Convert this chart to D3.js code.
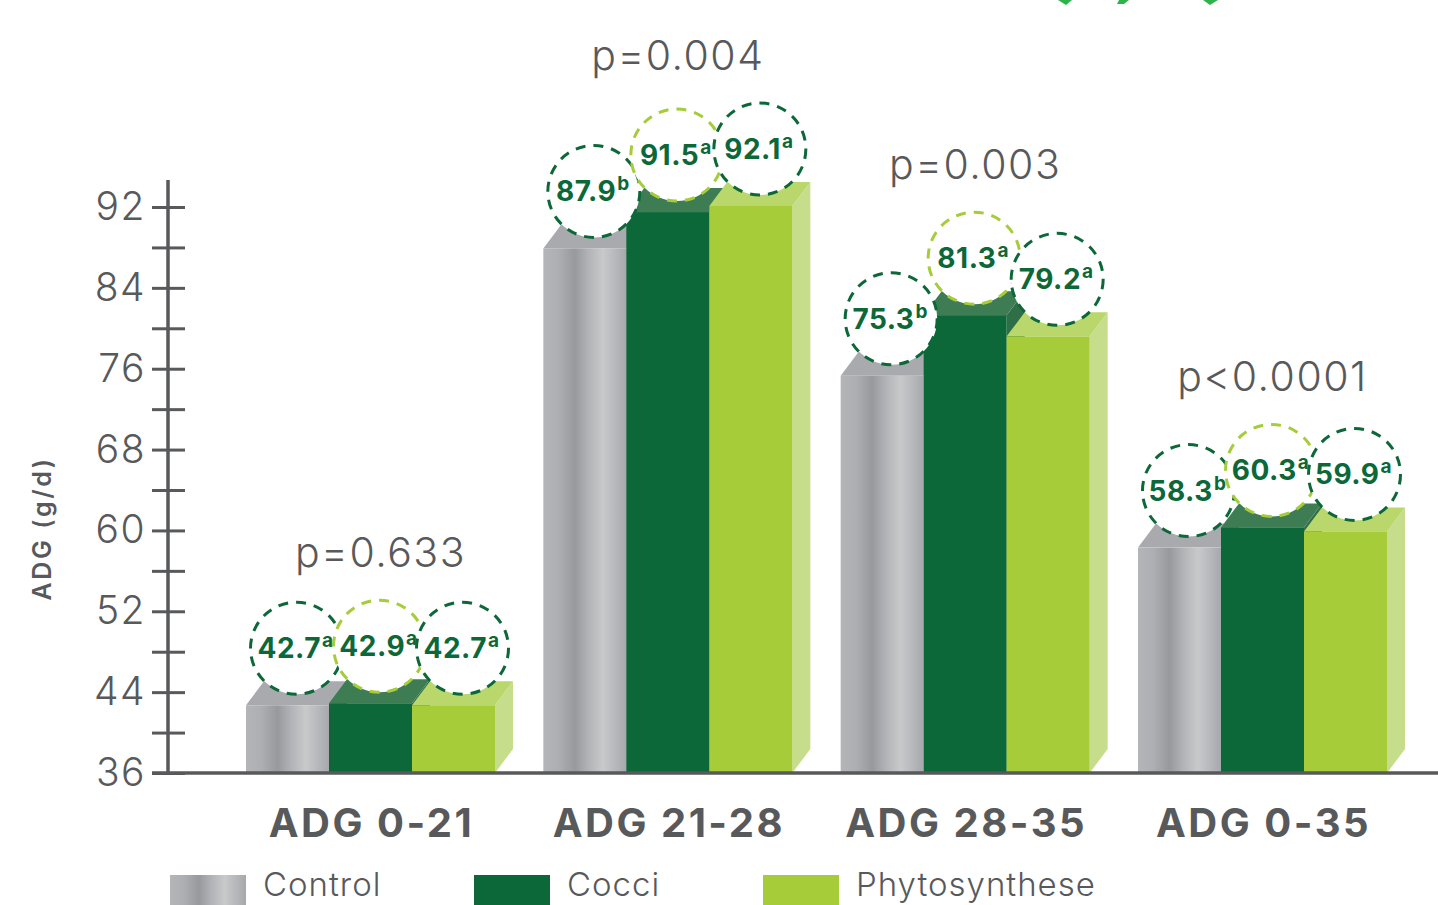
<!DOCTYPE html>
<html>
<head>
<meta charset="utf-8">
<script src="https://cdn.jsdelivr.net/npm/d3@7"></script>
<style>
  html, body { margin: 0; padding: 0; background: #fff; }
  svg { display: block; }
</style>
</head>
<body>
<svg id="chart" width="1438" height="905"></svg>
<script>
// ---- data ----
const categories = ["ADG 0-21", "ADG 21-28", "ADG 28-35", "ADG 0-35"];
const seriesNames = ["Control", "Cocci", "Phytosynthese"];
const controlValues = [42.7, 87.9, 75.3, 58.3];
const cocciValues = [42.9, 91.5, 81.3, 60.3];
const phytoValues = [42.7, 92.1, 79.2, 59.9];
const controlLetters = ["a", "b", "b", "b"];
const cocciLetters = ["a", "a", "a", "a"];
const phytoLetters = ["a", "a", "a", "a"];
const pValues = ["p=0.633", "p=0.004", "p=0.003", "p<0.0001"];
const majorTicks = [36, 44, 52, 60, 68, 76, 84, 92];
const minorTicks = [40, 48, 56, 64, 72, 80, 88];
const yTitle = "ADG (g/d)";

const seriesValues = [controlValues, cocciValues, phytoValues];
const seriesLetters = [controlLetters, cocciLetters, phytoLetters];

// ---- style ----
const FONT = "'Inter', 'Open Sans', sans-serif";
const GREY_TEXT = "#58595b";
const DARK = "#0c6838";
const LIGHT = "#a6cc39";
const faceFront = ["url(#steel)", DARK, LIGHT];
const faceTop = ["#a9aaad", "#3e7d53", "#b9d76b"];
const faceSide = ["#9fa0a4", "#2f6f47", "#c6de8b"];
const ringColor = [DARK, LIGHT, DARK];
const depthX = 18, depthY = 24;

const svg = d3.select("#chart");

// brushed-metal gradient for the control bars
const defs = svg.append("defs");
const steel = defs.append("linearGradient").attr("id", "steel")
  .attr("x1", "0%").attr("x2", "100%").attr("y1", "0%").attr("y2", "0%");
[[0, "#b4b5b8"], [0.18, "#aeafb2"], [0.38, "#98999d"], [0.55, "#b3b4b7"],
 [0.72, "#c7c9cb"], [0.85, "#b9babd"], [1, "#a7a8ab"]]
  .forEach(([o, c]) => steel.append("stop").attr("offset", o).attr("stop-color", c));

// ---- scales ----
const y = d3.scaleLinear().domain([36, 92]).range([773, 207]);
const x0 = d3.scaleBand().domain(categories).range([246, 1387]).paddingInner(0.1625).paddingOuter(0);
const x1 = d3.scaleBand().domain(seriesNames).range([0, x0.bandwidth()]).padding(0);

// ---- y axis ----
const axisX = 168;
const axisG = svg.append("g").attr("transform", `translate(${axisX},0)`);
const allTicks = majorTicks.concat(minorTicks);
const leftAxis = d3.axisLeft(y).tickValues(allTicks).tickSize(16).tickPadding(6)
  .tickFormat(d => majorTicks.includes(d) ? d : "");
const rightAxis = d3.axisRight(y).tickValues(allTicks).tickSize(17).tickFormat("");
axisG.append("g").call(leftAxis);
axisG.append("g").call(rightAxis);
axisG.selectAll(".domain").remove();
axisG.selectAll(".tick line").attr("stroke", GREY_TEXT).attr("stroke-width", 3);
axisG.selectAll(".tick text")
  .attr("fill", GREY_TEXT)
  .style("font-family", FONT)
  .style("font-weight", 300)
  .style("font-size", "39px")
  .style("letter-spacing", "1.5px");
axisG.append("line")
  .attr("x1", 0).attr("x2", 0).attr("y1", y(36)).attr("y2", 180)
  .attr("stroke", GREY_TEXT).attr("stroke-width", 3.5);

svg.append("text")
  .attr("transform", `translate(51,${y(60) - 2}) rotate(-90)`)
  .attr("text-anchor", "middle")
  .attr("fill", GREY_TEXT)
  .style("font-family", FONT)
  .style("font-weight", 600)
  .style("font-size", "25px")
  .style("letter-spacing", "2.6px")
  .text(yTitle);

// ---- bars (pseudo 3D boxes) ----
const barsG = svg.append("g");
categories.forEach((cat, ci) => {
  seriesNames.forEach((s, si) => {
    const v = seriesValues[si][ci];
    const xl = x0(cat) + x1(s);
    const xr = xl + x1.bandwidth();
    const yt = y(v), yb = y(36);
    const g = barsG.append("g");
    // side face
    g.append("path")
      .attr("d", `M${xr},${yt} L${xr + depthX},${yt - depthY} L${xr + depthX},${yb - depthY} L${xr},${yb} Z`)
      .attr("fill", faceSide[si]);
    // top face
    g.append("path")
      .attr("d", `M${xl},${yt} L${xl + depthX},${yt - depthY} L${xr + depthX},${yt - depthY} L${xr},${yt} Z`)
      .attr("fill", faceTop[si]);
    // front face
    g.append("rect")
      .attr("x", xl).attr("y", yt)
      .attr("width", x1.bandwidth()).attr("height", yb - yt)
      .attr("fill", faceFront[si]);
  });
});

// baseline
svg.append("line")
  .attr("x1", 152).attr("x2", 1438).attr("y1", y(36)).attr("y2", y(36))
  .attr("stroke", GREY_TEXT).attr("stroke-width", 3.5);

// ---- value badges ----
const badgeG = svg.append("g");
const R = 46;
const badgeX = (cat, s) => x0(cat) + x1(s) + x1.bandwidth() / 2 + depthX / 2;
categories.forEach((cat, ci) => {
  seriesNames.forEach((s, si) => {
    badgeG.append("circle")
      .attr("cx", badgeX(cat, s)).attr("cy", y(seriesValues[si][ci]) - 57).attr("r", R)
      .attr("fill", "#fff")
      .attr("stroke", ringColor[si])
      .attr("stroke-width", 3)
      .attr("stroke-dasharray", "10 8");
  });
});
categories.forEach((cat, ci) => {
  seriesNames.forEach((s, si) => {
    const v = seriesValues[si][ci];
    const t = badgeG.append("text")
      .attr("x", badgeX(cat, s) - 1).attr("y", y(v) - 57 + 10)
      .attr("text-anchor", "middle")
      .attr("fill", DARK)
      .style("font-family", FONT)
      .style("font-weight", 700)
      .style("font-size", "28px")
      .style("letter-spacing", "0.5px");
    t.append("tspan").text(v.toFixed(1));
    t.append("tspan").attr("dx", 1).attr("dy", -11).style("font-size", "19px").text(seriesLetters[si][ci]);
  });
});

// ---- p-values ----
categories.forEach((cat, ci) => {
  const top = d3.max(seriesValues, arr => arr[ci]);
  svg.append("text")
    .attr("x", x0(cat) + x0.bandwidth() / 2 + 10)
    .attr("y", y(top) - 150 + 14)
    .attr("text-anchor", "middle")
    .attr("fill", GREY_TEXT)
    .style("font-family", FONT)
    .style("font-weight", 300)
    .style("font-size", "41px")
    .style("letter-spacing", "1.5px")
    .text(pValues[ci]);
});

// ---- category labels ----
categories.forEach(cat => {
  svg.append("text")
    .attr("x", x0(cat) + x0.bandwidth() / 2 + 1)
    .attr("y", 837)
    .attr("text-anchor", "middle")
    .attr("fill", GREY_TEXT)
    .style("font-family", FONT)
    .style("font-weight", 700)
    .style("font-size", "40px")
    .style("letter-spacing", "2.5px")
    .text(cat);
});

// ---- legend ----
const legendX = [170, 474, 763];
seriesNames.forEach((s, si) => {
  svg.append("rect")
    .attr("x", legendX[si]).attr("y", 875)
    .attr("width", 76).attr("height", 34)
    .attr("fill", faceFront[si]);
  svg.append("text")
    .attr("x", legendX[si] + 93).attr("y", 896)
    .attr("fill", GREY_TEXT)
    .style("font-family", FONT)
    .style("font-weight", 300)
    .style("font-size", "33px")
    .style("letter-spacing", "1px")
    .text(s);
});

// ---- logo fragment at the top edge ----
const logoG = svg.append("g").attr("fill", "#2db34a");
logoG.append("path").attr("d", "M1058,0 L1072,0 L1066,5 Z");
logoG.append("path").attr("d", "M1119,0 L1129,0 L1124,4 L1117,4 Z");
logoG.append("path").attr("d", "M1203,0 L1218,0 L1210,5 Z");
</script>
</body>
</html>
